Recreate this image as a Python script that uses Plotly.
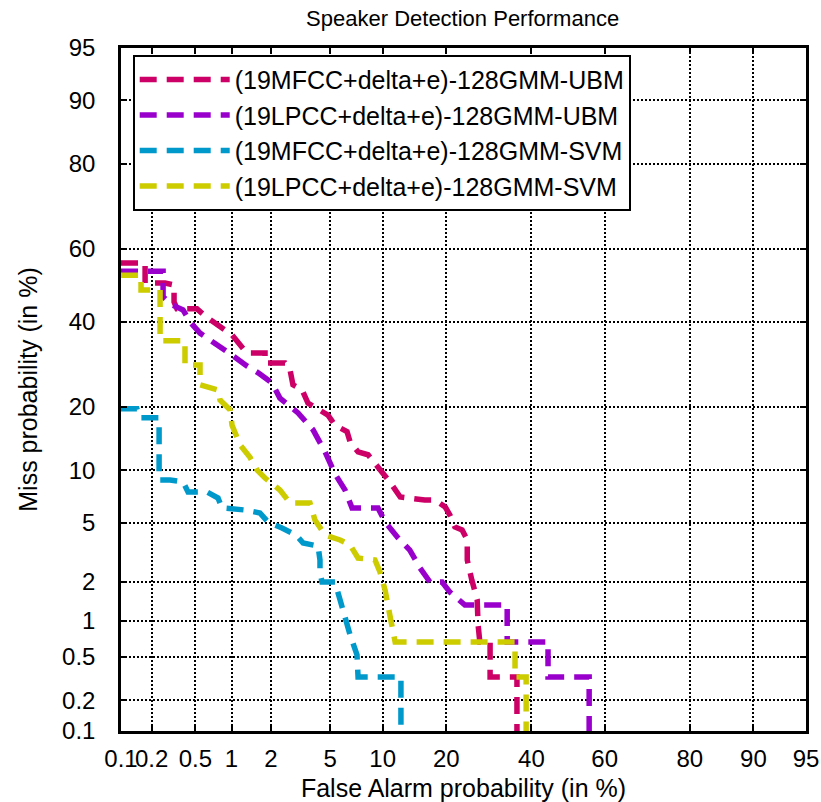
import plotly.graph_objects as go
from statistics import NormalDist

# DET curve points: false alarm rate and miss rate, both in percent
mfcc_ubm_fa = [0.1, 0.173, 0.173, 0.267, 0.323, 0.323, 0.343, 0.516, 0.604, 0.706, 0.886, 1.01,
               1.17, 1.32, 1.81, 1.81, 2.52, 2.73, 2.86, 3.30, 3.61, 4.13, 4.85, 5.36, 6.33, 6.59,
               7.33, 8.34, 9.33, 10.0, 10.9, 11.6, 12.3, 16.1, 17.9, 19.8, 20.7, 21.7, 23.2, 24.3,
               24.3, 25.3, 26.5, 26.7, 27.1, 29.5, 29.5, 36.2, 36.2]
mfcc_ubm_miss = [56.1, 56.1, 50.6, 50.6, 50.1, 45.4, 43.5, 43.5, 41.6, 39.9, 37.8, 36.5,
                 33.9, 31.9, 31.9, 29.5, 29.5, 27.9, 24.5, 23.4, 20.7, 19.7, 18.4, 16.6, 15.5, 13.9,
                 12.4, 12.0, 10.4, 9.65, 8.64, 7.79, 7.11, 6.83, 6.83, 6.21, 5.56, 4.69, 4.49, 3.87,
                 2.84, 2.05, 1.46, 0.93, 0.67, 0.67, 0.33, 0.33, 0.0]

lpcc_ubm_fa = [0.1, 0.256, 0.256, 0.309, 0.389, 0.448, 0.548, 0.734, 1.01, 1.32, 1.61, 2.04,
               2.32, 3.10, 3.90, 4.65, 5.36, 6.16, 6.77, 9.45, 10.3, 12.0, 13.7, 15.3, 17.0, 19.2,
               20.7, 23.8, 33.7, 33.7, 44.5, 44.5, 55.8, 55.8]
lpcc_ubm_miss = [53.9, 53.9, 46.8, 44.6, 43.2, 40.0, 37.0, 34.5, 31.4, 28.8, 27.2, 24.9,
                 21.7, 18.8, 15.8, 12.4, 9.54, 7.79, 6.13, 6.13, 5.04, 3.99, 3.32, 2.50, 1.98, 1.98,
                 1.67, 1.33, 1.33, 0.67, 0.67, 0.33, 0.33, 0.0]

mfcc_svm_fa = [0.1, 0.144, 0.154, 0.235, 0.235, 0.297, 0.389, 0.431, 0.629, 0.777, 0.838, 1.28,
               1.66, 1.90, 2.40, 3.00, 3.35, 4.20, 4.32, 4.32, 4.45, 5.36, 5.75, 6.16, 6.59, 7.23,
               7.33, 12.4, 12.4]
mfcc_svm_miss = [19.6, 19.6, 17.9, 17.9, 8.85, 8.85, 8.64, 7.59, 7.59, 7.01, 6.13, 5.96,
                 5.72, 5.04, 4.62, 4.17, 3.70, 3.53, 2.84, 2.34, 1.98, 1.98, 1.46, 1.02, 0.77, 0.52,
                 0.33, 0.33, 0.0]

lpcc_svm_fa = [0.1, 0.158, 0.158, 0.240, 0.240, 0.405, 0.405, 0.548, 0.548, 0.777, 0.807, 0.973,
               1.01, 1.17, 1.40, 1.58, 1.81, 2.32, 2.73, 3.72, 4.01, 4.65, 5.75, 6.59, 7.33, 9.10,
               9.68, 10.3, 10.9, 11.6, 35.7, 35.7, 38.6, 38.6]
lpcc_svm_miss = [52.8, 52.8, 48.7, 48.7, 35.0, 35.0, 29.0, 29.0, 24.5, 23.4, 21.3, 19.4,
                 16.6, 13.4, 11.6, 10.0, 9.07, 7.79, 6.56, 6.56, 5.18, 4.17, 3.87, 3.59, 2.93, 2.84,
                 2.34, 1.73, 1.11, 0.67, 0.67, 0.33, 0.33, 0.0]

series_names = ["(19MFCC+delta+e)-128GMM-UBM", "(19LPCC+delta+e)-128GMM-UBM",
                "(19MFCC+delta+e)-128GMM-SVM", "(19LPCC+delta+e)-128GMM-SVM"]
series_colors = ["#CC0066", "#9900CC", "#0099CC", "#CCCC00"]

tick_values = [0.1, 0.2, 0.5, 1, 2, 5, 10, 20, 40, 60, 80, 90, 95]
tick_labels = ["0.1", "0.2", "0.5", "1", "2", "5", "10", "20", "40", "60", "80", "90", "95"]

_nd = NormalDist()


def probit(values):
    """Map percentages onto the normal-deviate scale used by DET plots."""
    out = []
    for v in values:
        p = min(max(v, 0.001), 99.999) / 100.0
        out.append(_nd.inv_cdf(p))
    return out


FONT = "Liberation Sans, Arial, sans-serif"

fig = go.Figure()
curves = [(mfcc_ubm_fa, mfcc_ubm_miss), (lpcc_ubm_fa, lpcc_ubm_miss),
          (mfcc_svm_fa, mfcc_svm_miss), (lpcc_svm_fa, lpcc_svm_miss)]
for (fa, miss), name, color in zip(curves, series_names, series_colors):
    fig.add_trace(go.Scatter(
        x=probit(fa), y=probit(miss), mode="lines", name=name,
        line=dict(color=color, width=5.5, dash="17px,10px"),
    ))

lo, hi = probit([0.1, 95])
axis_range = [lo - 1e-6, hi + 1e-6]
axis_common = dict(
    range=axis_range,
    tickmode="array",
    tickvals=probit(tick_values),
    ticktext=tick_labels,
    tickfont=dict(family=FONT, size=24, color="black"),
    tickangle=0,
    ticks="inside",
    ticklen=6,
    tickwidth=2,
    tickcolor="black",
    showline=True,
    linecolor="black",
    linewidth=2.5,
    mirror="ticks",
    showgrid=True,
    gridcolor="black",
    gridwidth=1.5,
    griddash="2px,2px",
    zeroline=False,
    automargin=False,
)

fig.update_layout(
    width=821,
    height=802,
    margin=dict(l=121, r=15, t=48, b=71),
    paper_bgcolor="white",
    plot_bgcolor="white",
    title=dict(text="Speaker Detection Performance", x=0.5635, xanchor="center",
               y=0.977, yanchor="middle",
               font=dict(family=FONT, size=22, color="black")),
    xaxis=dict(axis_common,
               title=dict(text="False Alarm probability (in %)", standoff=10,
                          font=dict(family=FONT, size=25, color="black")),
               ticklabelstandoff=4),
    yaxis=dict(axis_common,
               title=dict(text="Miss probability (in %)", standoff=18,
                          font=dict(family=FONT, size=25, color="black")),
               ticklabelstandoff=18),
    legend=dict(
        x=0.0171, y=0.99, xanchor="left", yanchor="top",
        bgcolor="white", bordercolor="black", borderwidth=2,
        font=dict(family=FONT, size=25, color="black"),
        itemwidth=90,
        entrywidth=508,
        entrywidthmode="pixels",
    ),
    showlegend=True,
)

fig.write_html("out.html")
